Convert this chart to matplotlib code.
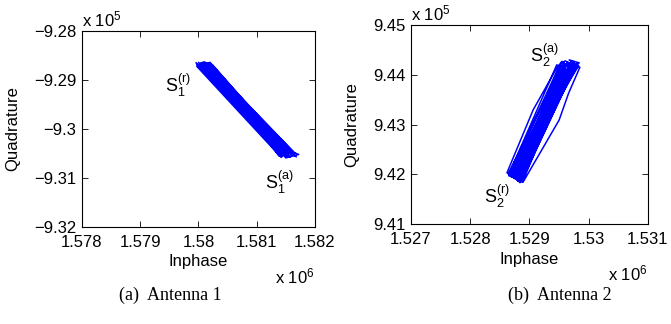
import matplotlib
matplotlib.use("Agg")
import matplotlib.pyplot as plt
from matplotlib.ticker import FixedLocator, FixedFormatter

plt.rcParams['font.family'] = ['Liberation Sans', 'DejaVu Sans']
plt.rcParams['mathtext.fontset'] = 'custom'
plt.rcParams['mathtext.rm'] = 'Liberation Sans'
plt.rcParams['mathtext.it'] = 'Liberation Sans'

# ---- Data (I in units of 1e6, Q in units of 1e5) ----
I1 = [1.57996, 1.58148, 1.58158, 1.58010, 1.58002, 1.58140, 1.58018, 1.58165, 1.57999,
      1.58008, 1.58040, 1.58160, 1.58172, 1.58150, 1.58003, 1.58020, 1.58138, 1.58146,
      1.58014, 1.58120, 1.58140, 1.58155, 1.58006, 1.57997, 1.58142, 1.58152, 1.58022,
      1.58162, 1.58001, 1.58150, 1.58012, 1.58136, 1.58018, 1.58158, 1.58008, 1.58168,
      1.58004, 1.58145, 1.58015, 1.58153, 1.57998, 1.58140, 1.58012, 1.58147, 1.58024,
      1.58160, 1.58005, 1.58143, 1.58009, 1.58156, 1.58000, 1.58166, 1.58016, 1.58138,
      1.58007, 1.58150, 1.58020, 1.58163, 1.57997]
Q1 = [-9.2865, -9.3052, -9.3057, -9.2863, -9.2870, -9.3048, -9.2866, -9.3055, -9.2868,
      -9.2882, -9.2915, -9.3046, -9.3052, -9.3059, -9.2870, -9.2864, -9.3055, -9.3047,
      -9.2872, -9.3012, -9.3030, -9.3050, -9.2864, -9.2872, -9.3058, -9.3045, -9.2867,
      -9.3053, -9.2869, -9.3050, -9.2866, -9.3046, -9.2870, -9.3049, -9.2864, -9.3057,
      -9.2866, -9.3053, -9.2868, -9.3056, -9.2870, -9.3051, -9.2864, -9.3048, -9.2869,
      -9.3054, -9.2867, -9.3055, -9.2871, -9.3044, -9.2864, -9.3050, -9.2865, -9.3049,
      -9.2869, -9.3057, -9.2871, -9.3047, -9.2867]

I2 = [1.52870, 1.52885, 1.52865, 1.52952, 1.52975, 1.52965, 1.52982, 1.52878, 1.52862,
      1.52906, 1.52948, 1.52960, 1.52985, 1.52966, 1.52950, 1.52889, 1.52872, 1.52958,
      1.52978, 1.52970, 1.52880, 1.52866, 1.52946, 1.52962, 1.52980, 1.52884, 1.52875,
      1.52955, 1.52972, 1.52983, 1.52868, 1.52882, 1.52950, 1.52966, 1.52977, 1.52886,
      1.52870, 1.52958, 1.52981, 1.52963, 1.52878, 1.52865, 1.52953, 1.52975, 1.52874,
      1.52960, 1.52883, 1.52968, 1.52869, 1.52956, 1.52880, 1.52973, 1.52872, 1.52962,
      1.52887, 1.52978, 1.52967, 1.52984, 1.52971, 1.52876, 1.52957, 1.52885, 1.52974,
      1.52867, 1.52951, 1.52879, 1.52964, 1.52882, 1.52976, 1.52871, 1.52959, 1.52888,
      1.52969, 1.52864, 1.52954, 1.52877, 1.52979, 1.52873, 1.52961]
Q2 = [9.4195, 9.4185, 9.4200, 9.4415, 9.4425, 9.4408, 9.4420, 9.4190, 9.4203,
      9.4329, 9.4418, 9.4428, 9.4415, 9.4363, 9.4309, 9.4184, 9.4198, 9.4422,
      9.4412, 9.4426, 9.4188, 9.4202, 9.4420, 9.4410, 9.4423, 9.4183, 9.4196,
      9.4427, 9.4409, 9.4418, 9.4199, 9.4187, 9.4412, 9.4424, 9.4416, 9.4185,
      9.4201, 9.4419, 9.4422, 9.4407, 9.4192, 9.4197, 9.4425, 9.4414, 9.4193,
      9.4416, 9.4189, 9.4420, 9.4196, 9.4410, 9.4186, 9.4427, 9.4200, 9.4418,
      9.4188, 9.4421, 9.4430, 9.4424, 9.4417, 9.4191, 9.4421, 9.4186, 9.4419,
      9.4198, 9.4414, 9.4194, 9.4426, 9.4190, 9.4411, 9.4197, 9.4423, 9.4184,
      9.4415, 9.4201, 9.4418, 9.4192, 9.4420, 9.4199, 9.4413]

xt1 = [1.578, 1.579, 1.580, 1.581, 1.582]
xl1 = ['1.578', '1.579', '1.58', '1.581', '1.582']
yt1 = [-9.32, -9.31, -9.30, -9.29, -9.28]
yl1 = ['\u22129.32', '\u22129.31', '\u22129.3', '\u22129.29', '\u22129.28']
xt2 = [1.527, 1.528, 1.529, 1.530, 1.531]
xl2 = ['1.527', '1.528', '1.529', '1.53', '1.531']
yt2 = [9.41, 9.42, 9.43, 9.44, 9.45]
yl2 = ['9.41', '9.42', '9.43', '9.44', '9.45']

fig = plt.figure(figsize=(6.71, 3.24), dpi=100)
ax1 = fig.add_axes([0.1222, 0.2994, 0.3472, 0.605])
ax2 = fig.add_axes([0.6125, 0.3086, 0.3532, 0.614])

FS = 12
for ax, I, Q, xt, xl, yt, yl in [(ax1, I1, Q1, xt1, xl1, yt1, yl1),
                                 (ax2, I2, Q2, xt2, xl2, yt2, yl2)]:
    ax.plot(I, Q, color='#0000ff', lw=1.1)
    ax.set_xlim(xt[0], xt[-1])
    ax.set_ylim(yt[0], yt[-1])
    ax.xaxis.set_major_locator(FixedLocator(xt))
    ax.xaxis.set_major_formatter(FixedFormatter(xl))
    ax.yaxis.set_major_locator(FixedLocator(yt))
    ax.yaxis.set_major_formatter(FixedFormatter(yl))
    ax.tick_params(direction='in', top=True, right=True, length=4, width=0.6,
                   labelsize=FS)
    ax.tick_params(axis='x', pad=6)
    ax.tick_params(axis='y', pad=4)
    for s in ax.spines.values():
        s.set_linewidth(0.8)
    ax.set_xlabel('Inphase', fontsize=FS, labelpad=3)
    ax.set_ylabel('Quadrature', fontsize=FS, labelpad=10)
    ax.text(0.0, 1.01, r'x 10$^{5}$', transform=ax.transAxes, fontsize=FS,
            ha='left', va='bottom')
    ax.text(1.0, -0.2, r'x 10$^{6}$', transform=ax.transAxes, fontsize=FS,
            ha='right', va='top')

ax1.text(1.57987, -9.2911, r'$\mathrm{S}_1^{(\mathrm{r})}$', fontsize=FS + 1, ha='right', va='center')
ax1.text(1.58114, -9.3108, r'$\mathrm{S}_1^{(\mathrm{a})}$', fontsize=FS + 1, ha='left', va='center')
ax2.text(1.52950, 9.4439, r'$\mathrm{S}_2^{(\mathrm{a})}$', fontsize=FS + 1, ha='right', va='center')
ax2.text(1.52867, 9.4155, r'$\mathrm{S}_2^{(\mathrm{r})}$', fontsize=FS + 1, ha='right', va='center')

fig.text(170/671, 1 - 295/324, '(a)  Antenna 1', family='Liberation Serif',
         fontsize=13, ha='center', va='center')
fig.text(560/671, 1 - 295/324, '(b)  Antenna 2', family='Liberation Serif',
         fontsize=13, ha='center', va='center')

fig.savefig('out.png', dpi=100)
